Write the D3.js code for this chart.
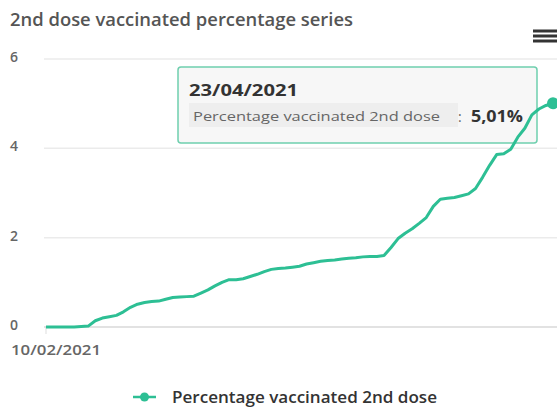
<!DOCTYPE html>
<html><head><meta charset="utf-8">
<script src="https://cdn.jsdelivr.net/npm/d3@7"></script>
<style>
html,body{margin:0;padding:0;background:#fff;}
svg{display:block;font-family:"Open Sans",sans-serif;}
</style></head>
<body><svg id="c" width="557" height="408"></svg>
<script>
const title = "2nd dose vaccinated percentage series";
const seriesName = "Percentage vaccinated 2nd dose";
const startDate = "2021-02-10";
const values = [0,0,0,0,0,0.01,0.02,0.14,0.2,0.23,0.26,0.34,0.44,0.51,0.55,0.57,0.58,0.62,0.66,0.67,0.68,0.69,0.76,0.83,0.92,1.0,1.06,1.06,1.08,1.13,1.18,1.24,1.29,1.31,1.32,1.34,1.36,1.41,1.44,1.47,1.49,1.5,1.52,1.54,1.55,1.57,1.58,1.58,1.6,1.78,1.98,2.1,2.2,2.32,2.45,2.7,2.86,2.88,2.9,2.94,2.98,3.1,3.35,3.62,3.86,3.88,3.98,4.25,4.45,4.75,4.88,4.96,5.01];
const yTicks = [0,2,4,6];
const xTickLabels = ["10/02/2021"];
const tooltipDate = "23/04/2021";
const tooltipValue = "5,01%";

const color = "#2dbf94";
const svg = d3.select("#c");
const parse = d3.timeParse("%Y-%m-%d");
const t0 = parse(startDate);
const data = values.map((v,i)=>({date:d3.timeDay.offset(t0,i), v}));

const x = d3.scaleTime().domain([data[0].date, data[data.length-1].date]).range([46,553]);
const y = d3.scaleLinear().domain([0,6]).range([327,59]);

svg.append("text").attr("x",10).attr("y",26).attr("fill","#555").attr("font-size",17.5).attr("font-weight",600)
  .attr("textLength",343).attr("lengthAdjust","spacingAndGlyphs").text(title);

// hamburger
[31,36,41].forEach(yy=>svg.append("rect").attr("x",533).attr("y",yy-1.5).attr("width",24).attr("height",3).attr("fill","#333"));

// grid
svg.append("g").selectAll("line").data(yTicks).join("line")
  .attr("x1",44).attr("x2",557).attr("y1",d=>y(d)).attr("y2",d=>y(d))
  .attr("stroke",d=>d===0?"#d8d8d8":"#ebebeb").attr("stroke-width",1.5);
svg.append("g").selectAll("text").data(yTicks).join("text")
  .attr("x",10).attr("y",d=>y(d)+3).attr("fill","#666").attr("font-size",14).attr("font-weight",600).text(d=>d);

// x tick
svg.append("line").attr("x1",x(data[0].date)).attr("x2",x(data[0].date)).attr("y1",327).attr("y2",334).attr("stroke","#ddd");
svg.append("text").attr("x",11).attr("y",355).attr("fill","#666").attr("font-size",14.5).attr("font-weight",600)
  .attr("textLength",90).attr("lengthAdjust","spacingAndGlyphs").text(xTickLabels[0]);

// line
const line = d3.line().x(d=>x(d.date)).y(d=>y(d.v));

// tooltip
const tg = svg.append("g");
tg.append("rect").attr("x",178).attr("y",67).attr("width",359).attr("height",76).attr("rx",3)
  .attr("fill","#f7f7f7").attr("stroke","#6fcfae").attr("stroke-width",1.5);
tg.append("rect").attr("x",189).attr("y",103).attr("width",269).attr("height",24).attr("fill","#eeeeee");
tg.append("text").attr("x",189).attr("y",96).attr("fill","#333").attr("font-size",16).attr("font-weight",700)
  .attr("textLength",109).attr("lengthAdjust","spacingAndGlyphs").text(tooltipDate);
tg.append("text").attr("x",193).attr("y",121).attr("fill","#666").attr("font-size",13.5)
  .attr("textLength",247).attr("lengthAdjust","spacingAndGlyphs").text(seriesName);
tg.append("text").attr("x",458).attr("y",122).attr("fill","#666").attr("font-size",14).text(":");
tg.append("text").attr("x",471).attr("y",122).attr("fill","#333").attr("font-size",15.5).attr("font-weight",700)
  .attr("textLength",52).attr("lengthAdjust","spacingAndGlyphs").text(tooltipValue);

// series line drawn above tooltip (visible through in reference)
svg.append("path").datum(data).attr("d",line).attr("fill","none").attr("stroke",color).attr("stroke-width",3).attr("stroke-linejoin","round");
const last = data[data.length-1];
svg.append("circle").attr("cx",x(last.date)).attr("cy",y(last.v)).attr("r",6).attr("fill",color);

// legend
svg.append("line").attr("x1",133).attr("x2",156).attr("y1",397).attr("y2",397).attr("stroke",color).attr("stroke-width",2.5);
svg.append("circle").attr("cx",144.5).attr("cy",397).attr("r",4.5).attr("fill",color);
svg.append("text").attr("x",172).attr("y",403).attr("fill","#333").attr("font-size",15.5).attr("font-weight",600)
  .attr("textLength",265).attr("lengthAdjust","spacingAndGlyphs").text(seriesName);
</script></body></html>
